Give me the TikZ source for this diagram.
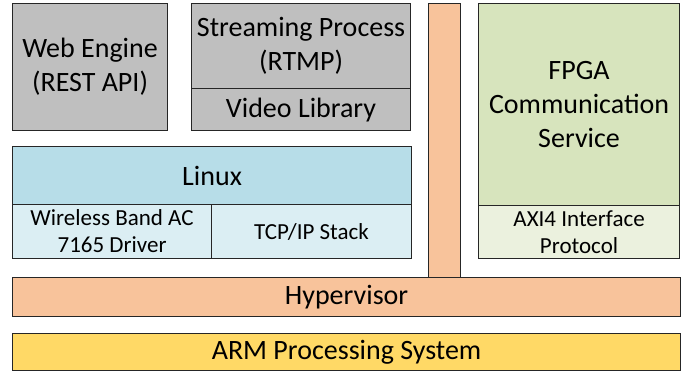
\documentclass[tikz,border=0pt]{standalone}
\usepackage{fontspec}
\setmainfont{Carlito}
\usepackage{xcolor}
\usetikzlibrary{positioning}

\definecolor{grayfill}{HTML}{BFBFBF}
\definecolor{hypfill}{HTML}{F8C39B}
\definecolor{linuxfill}{HTML}{B7DDE8}
\definecolor{driverfill}{HTML}{DBEEF3}
\definecolor{fpgafill}{HTML}{D7E4BD}
\definecolor{axifill}{HTML}{EBF1DE}
\definecolor{armfill}{HTML}{FFD966}

\begin{document}
\begin{tikzpicture}[
    x=1pt, y=1pt,
    layer/.style={rectangle, draw=black!85, line width=1.1pt, anchor=north west, inner sep=0pt, align=center, font=\fontsize{28}{34}\selectfont},
    sublayer/.style={layer, font=\fontsize{23}{27}\selectfont}
]
    \useasboundingbox (0,0) rectangle (685,-372);

    % Row 1: applications
    \node (web) [layer, fill=grayfill, minimum width=155pt, minimum height=127pt] at (12,-3) {Web Engine\\(REST API)};
    \node (stream) [layer, fill=grayfill, minimum width=219pt, minimum height=85pt] at (191,-3) {Streaming Process\\(RTMP)};
    \node (video) [layer, fill=grayfill, minimum width=219pt, minimum height=42pt] at (191,-88) {Video Library};

    % Right side: hypervisor pillar and FPGA service
    \node (pillar) [layer, fill=hypfill, minimum width=32pt, minimum height=274pt] at (428,-3) {};
    \node (fpga) [layer, fill=fpgafill, minimum width=201pt, minimum height=202pt] at (478,-3) {FPGA\\Communication\\Service};
    \node (axi) [sublayer, fill=axifill, minimum width=201pt, minimum height=53pt] at (478,-205) {AXI4 Interface\\Protocol};

    % Row 2: operating system
    \node (linux) [layer, fill=linuxfill, minimum width=399pt, minimum height=58pt] at (12,-146) {Linux};
    \node (wireless) [sublayer, fill=driverfill, minimum width=199pt, minimum height=54pt] at (12,-204) {Wireless Band AC\\7165 Driver};
    \node (tcp) [sublayer, fill=driverfill, minimum width=200pt, minimum height=54pt] at (211,-204) {TCP/IP Stack};

    % Row 3: hypervisor and hardware
    \node (hyper) [layer, fill=hypfill, minimum width=668pt, minimum height=39pt] at (12,-277) {Hypervisor};
    \node (arm) [layer, fill=armfill, minimum width=668pt, minimum height=37pt] at (12,-333) {ARM Processing System};

\end{tikzpicture}
\end{document}
